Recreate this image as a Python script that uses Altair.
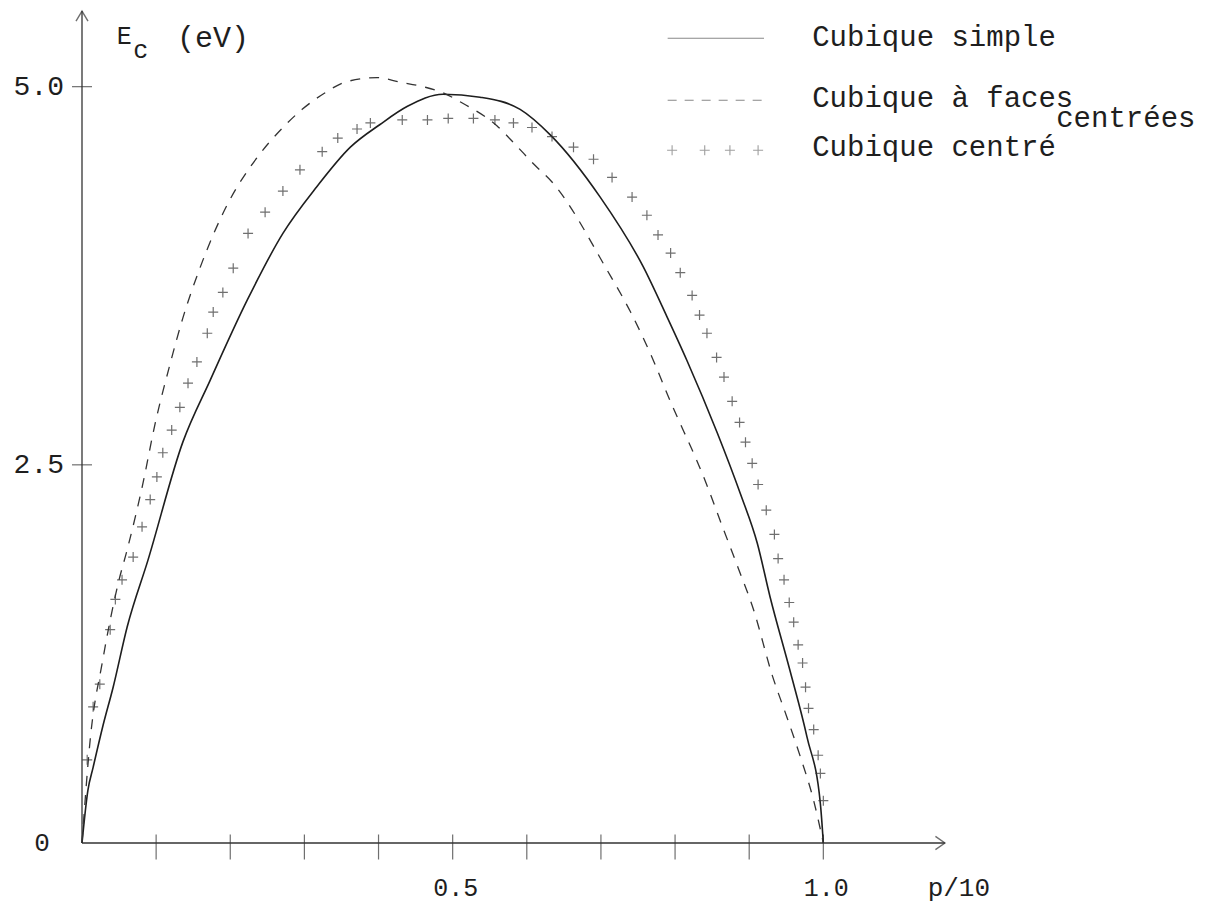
import altair as alt
import pandas as pd

# ---- data ----
simple_x = [0, 0.008, 0.015, 0.028, 0.042, 0.061, 0.089, 0.136, 0.173, 0.223, 0.271, 0.317, 0.362,
            0.402, 0.439, 0.487, 0.537, 0.591, 0.632, 0.699, 0.757, 0.789, 0.816, 0.857, 0.888,
            0.911, 0.928, 0.955, 0.978, 0.996, 1.0]
simple_y = [0, 0.35, 0.50, 0.77, 1.03, 1.43, 1.87, 2.65, 3.06, 3.59, 4.03, 4.34, 4.60,
            4.75, 4.87, 4.95, 4.93, 4.85, 4.68, 4.27, 3.81, 3.48, 3.19, 2.71, 2.31,
            1.98, 1.63, 1.14, 0.70, 0.26, 0]

fcc_x = [0, 0.011, 0.028, 0.049, 0.061, 0.081, 0.099, 0.119, 0.136, 0.159, 0.196, 0.236, 0.271,
         0.297, 0.328, 0.355, 0.398, 0.429, 0.460, 0.487, 0.510, 0.560, 0.584, 0.611, 0.634,
         0.708, 0.740, 0.769, 0.791, 0.841, 0.864, 0.885, 0.906, 0.931, 0.951, 0.969, 0.987, 1.0]
fcc_y = [0, 0.68, 1.21, 1.72, 1.94, 2.35, 2.78, 3.17, 3.47, 3.80, 4.22, 4.53, 4.73,
         4.85, 4.96, 5.03, 5.06, 5.03, 5.00, 4.96, 4.90, 4.74, 4.62, 4.48, 4.37,
         3.79, 3.51, 3.21, 2.95, 2.39, 2.09, 1.82, 1.54, 1.11, 0.83, 0.57, 0.28, 0]

bcc_x = [0.007, 0.015, 0.024, 0.038, 0.045, 0.054, 0.069, 0.081, 0.092, 0.101, 0.109, 0.121,
         0.132, 0.143, 0.155, 0.169, 0.177, 0.190, 0.204, 0.224, 0.247, 0.271, 0.294, 0.324,
         0.345, 0.371, 0.389, 0.432, 0.466, 0.494, 0.528, 0.557, 0.582, 0.607, 0.634, 0.663,
         0.690, 0.715, 0.742, 0.762, 0.777, 0.794, 0.807, 0.823, 0.833, 0.843, 0.856, 0.866,
         0.877, 0.887, 0.895, 0.904, 0.912, 0.923, 0.934, 0.939, 0.947, 0.954, 0.960, 0.966,
         0.972, 0.976, 0.980, 0.987, 0.993, 0.996, 1.0]
bcc_y = [0.55, 0.90, 1.05, 1.41, 1.61, 1.74, 1.89, 2.09, 2.27, 2.42, 2.58, 2.73,
         2.88, 3.04, 3.18, 3.37, 3.51, 3.64, 3.80, 4.03, 4.17, 4.31, 4.45, 4.57,
         4.66, 4.72, 4.76, 4.78, 4.78, 4.79, 4.79, 4.78, 4.76, 4.73, 4.67, 4.60,
         4.52, 4.40, 4.27, 4.15, 4.02, 3.90, 3.77, 3.62, 3.49, 3.37, 3.21, 3.08,
         2.92, 2.78, 2.65, 2.51, 2.37, 2.20, 2.04, 1.88, 1.74, 1.59, 1.46, 1.31,
         1.19, 1.03, 0.89, 0.75, 0.58, 0.46, 0.28]

series_names = ["Cubique simple", "Cubique à faces", "Cubique centré"]
subscript_note = "centrées"

x_tick_values = [0.1, 0.2, 0.3, 0.4, 0.5, 0.6, 0.7, 0.8, 0.9, 1.0]
x_tick_labels = ["0.5", "1.0"]
x_label_values = [0.5, 1.0]
y_tick_values = [2.5, 5.0]
y_tick_labels = ["2.5", "5.0"]
x_axis_title = "p/10"
y_axis_title = ["E", "c", "(eV)"]

FONT = "Liberation Mono"
INK = "#1e1e1e"
GREY = "#333333"

xs = alt.Scale(domain=[0, 1.5], nice=False, zero=False)
ys = alt.Scale(domain=[0, 5.52], nice=False, zero=False)


def X(field="x"):
    return alt.X(f"{field}:Q", scale=xs, axis=None)


def Y(field="y"):
    return alt.Y(f"{field}:Q", scale=ys, axis=None)


df_simple = pd.DataFrame({"x": simple_x, "y": simple_y})
df_fcc = pd.DataFrame({"x": fcc_x, "y": fcc_y})
df_bcc = pd.DataFrame({"x": bcc_x, "y": bcc_y})

CROSS = "M-1,0L1,0M0,-1L0,1"

solid = alt.Chart(df_simple).mark_line(color=INK, strokeWidth=1.6, interpolate="monotone").encode(x=X(), y=Y())
dashed = alt.Chart(df_fcc).mark_line(color=GREY, strokeWidth=1.3, strokeDash=[10, 9],
                                     interpolate="monotone").encode(x=X(), y=Y())
crosses = alt.Chart(df_bcc).mark_point(shape=CROSS, size=100, filled=False, color=GREY,
                                       strokeWidth=1.2).encode(x=X(), y=Y())

# axes lines with arrow heads
axis_end = pd.DataFrame({"x0": [0], "y0": [0], "xe": [1.164], "ye": [5.50]})
x_line = alt.Chart(axis_end).mark_rule(color=GREY, strokeWidth=1.3).encode(
    x=X("x0"), x2="xe:Q", y=Y("y0"))
y_line = alt.Chart(axis_end).mark_rule(color=GREY, strokeWidth=1.3).encode(
    x=X("x0"), y=Y("y0"), y2="ye:Q")
x_arrow = alt.Chart(axis_end).mark_point(shape="M-1,-0.7L0,0L-1,0.7", size=360, filled=False,
                                         color=GREY, strokeWidth=1.4).encode(x=X("xe"), y=Y("y0"))
y_arrow = alt.Chart(axis_end).mark_point(shape="M-0.6,1L0,0L0.6,1", size=400, filled=False,
                                         color=GREY, strokeWidth=1.4).encode(x=X("x0"), y=Y("ye"))

# ticks and labels
df_xt = pd.DataFrame({"x": x_tick_values, "y": [0] * len(x_tick_values)})
x_ticks = alt.Chart(df_xt).mark_point(shape="M0,-1L0,1", size=625, filled=False, color=GREY,
                                      strokeWidth=1.2, yOffset=4).encode(x=X(), y=Y())
df_yt = pd.DataFrame({"x": [0] * len(y_tick_values), "y": y_tick_values, "t": y_tick_labels})
y_ticks = alt.Chart(df_yt).mark_point(shape="M-1,0L1,0", size=400, filled=False, color=GREY,
                                      strokeWidth=1.2).encode(x=X(), y=Y())
y_labels = alt.Chart(df_yt).mark_text(font=FONT, fontSize=28, align="right", baseline="middle",
                                      dx=-18, color=INK).encode(x=X(), y=Y(), text="t:N")
df_zero = pd.DataFrame({"x": [0], "y": [0], "t": ["0"]})
zero_label = alt.Chart(df_zero).mark_text(font=FONT, fontSize=26, align="center", baseline="middle",
                                          dx=-40, color=INK).encode(x=X(), y=Y(), text="t:N")
df_xl = pd.DataFrame({"x": x_label_values, "y": [0, 0], "t": x_tick_labels})
x_labels = alt.Chart(df_xl).mark_text(font=FONT, fontSize=25, align="center", baseline="middle",
                                      dy=45, dx=3, color=INK).encode(x=X(), y=Y(), text="t:N")
df_xtitle = pd.DataFrame({"x": [1.165], "y": [0], "t": [x_axis_title]})
x_title = alt.Chart(df_xtitle).mark_text(font=FONT, fontSize=26, align="left", baseline="middle",
                                         dy=45, dx=-18, color=INK).encode(x=X(), y=Y(), text="t:N")

# y title: E_c (eV)
df_yt1 = pd.DataFrame({"x": [0.047], "y": [5.335], "t": [y_axis_title[0]]})
df_yt2 = pd.DataFrame({"x": [0.069], "y": [5.24], "t": [y_axis_title[1]]})
df_yt3 = pd.DataFrame({"x": [0.128], "y": [5.32], "t": [y_axis_title[2]]})
yt1 = alt.Chart(df_yt1).mark_text(font=FONT, fontSize=25, align="left", baseline="middle", color=INK).encode(
    x=X(), y=Y(), text="t:N")
yt2 = alt.Chart(df_yt2).mark_text(font=FONT, fontSize=25, align="left", baseline="middle", color=INK).encode(
    x=X(), y=Y(), text="t:N")
yt3 = alt.Chart(df_yt3).mark_text(font=FONT, fontSize=30, align="left", baseline="middle", color=INK).encode(
    x=X(), y=Y(), text="t:N")

# legend
leg_x0, leg_x1, leg_tx = 0.79, 0.92, 0.985
leg_line_y = [5.32, 4.91, 4.58]
leg_text_y = [5.33, 4.925, 4.60]
df_leg_text = pd.DataFrame({"x": [leg_tx] * 3, "y": leg_text_y, "t": series_names})
leg_text = alt.Chart(df_leg_text).mark_text(font=FONT, fontSize=29, align="left", baseline="middle",
                                            color=INK).encode(x=X(), y=Y(), text="t:N")
df_leg_sub = pd.DataFrame({"x": [leg_tx], "y": [leg_text_y[1]], "t": [subscript_note]})
leg_sub = alt.Chart(df_leg_sub).mark_text(font=FONT, fontSize=29, align="left", baseline="middle",
                                          dx=244, dy=20, color=INK).encode(x=X(), y=Y(), text="t:N")
df_leg_solid = pd.DataFrame({"x": [leg_x0], "x2": [leg_x1], "y": [leg_line_y[0]]})
leg_solid = alt.Chart(df_leg_solid).mark_rule(color="#888888", strokeWidth=1.1).encode(
    x=X(), x2="x2:Q", y=Y())
df_leg_dash = pd.DataFrame({"x": [leg_x0], "x2": [leg_x1], "y": [leg_line_y[1]]})
leg_dash = alt.Chart(df_leg_dash).mark_rule(color="#888888", strokeWidth=1.1, strokeDash=[9, 8]).encode(
    x=X(), x2="x2:Q", y=Y())
df_leg_cross = pd.DataFrame({"x": [0.796, 0.840, 0.874, 0.912], "y": [leg_line_y[2]] * 4})
leg_cross = alt.Chart(df_leg_cross).mark_point(shape=CROSS, size=100, filled=False, color="#777777",
                                               strokeWidth=1.1).encode(x=X(), y=Y())

chart = alt.layer(
    x_line, y_line, x_arrow, y_arrow, x_ticks, y_ticks, y_labels, zero_label, x_labels, x_title,
    yt1, yt2, yt3, solid, dashed, crosses, leg_solid, leg_dash, leg_cross, leg_text, leg_sub
).properties(
    width=1112, height=835,
    autosize=alt.AutoSizeParams(type="none"),
    padding={"left": 74, "top": 0, "right": 10, "bottom": 66},
    background="white",
).configure_view(stroke=None)

chart.save("out.html", embed_options={"renderer": "svg", "actions": False})
